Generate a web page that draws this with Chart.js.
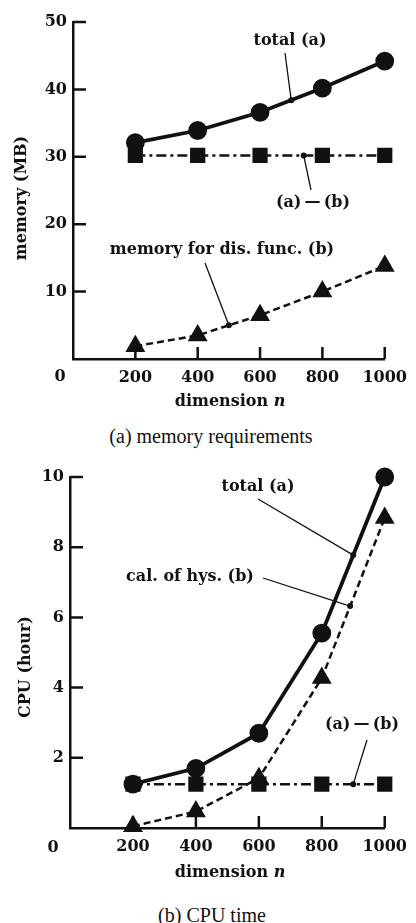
<!DOCTYPE html>
<html>
<head>
<meta charset="utf-8">
<script src="https://cdn.jsdelivr.net/npm/chart.js@4"></script>
<style>
  body { margin: 0; background: #fff; width: 416px; height: 923px; position: relative; overflow: hidden; }
  .box { position: absolute; left: 0; width: 416px; }
  .cap { position: absolute; transform: translate(-50%, -50%); font-family: "Liberation Serif", serif;
         font-size: 20px; color: #111; white-space: nowrap; }
</style>
</head>
<body>
<div class="box" style="top:0;height:420px"><canvas id="mem" width="416" height="420"></canvas></div>
<div class="cap" style="left:211px;top:436px">(a) memory requirements</div>
<div class="box" style="top:440px;height:450px"><canvas id="cpu" width="416" height="450"></canvas></div>
<div class="cap" style="left:212px;top:915px">(b) CPU time</div>
<script>
// values
const dims = [200, 400, 600, 800, 1000];
const dimTicks = [0, 200, 400, 600, 800, 1000];

const memTotal = [32.1, 33.9, 36.6, 40.2, 44.2];
const memDiff = [30.2, 30.2, 30.2, 30.2, 30.2];
const memDisFunc = [1.9, 3.5, 6.5, 10.0, 13.8];
const memTicks = [0, 10, 20, 30, 40, 50];

const cpuTotal = [1.25, 1.7, 2.7, 5.55, 10.0];
const cpuDiff = [1.25, 1.25, 1.25, 1.25, 1.25];
const cpuHys = [0.05, 0.47, 1.42, 4.27, 8.83];
const cpuTicks = [0, 2, 4, 6, 8, 10];

const ink = '#111';
const serif = '"DejaVu Serif", serif';
const tickFont = { family: serif, size: 16, weight: 'bold' };

function pts(ys) {
  return dims.map((x, i) => ({ x: x, y: ys[i] }));
}

// inward tick marks, titles and the little leader-line notes
const decor = {
  id: 'decor',
  beforeDatasetsDraw(chart, args, opts) {
    const ctx = chart.ctx, xs = chart.scales.x, ys = chart.scales.y;
    const { left, bottom } = chart.chartArea;
    ctx.save();
    ctx.strokeStyle = ink;
    ctx.lineWidth = 2.5;
    ctx.beginPath();
    ys.ticks.forEach(t => {
      if (t.value === 0) return;
      const y = ys.getPixelForValue(t.value);
      ctx.moveTo(left, y); ctx.lineTo(left + 13, y);
    });
    xs.ticks.forEach(t => {
      if (t.value === 0) return;
      const x = xs.getPixelForValue(t.value);
      ctx.moveTo(x, bottom); ctx.lineTo(x, bottom - 12);
    });
    ctx.stroke();
    ctx.restore();
  },
  afterDraw(chart, args, opts) {
    const ctx = chart.ctx;
    ctx.save();
    ctx.fillStyle = ink;
    ctx.strokeStyle = ink;
    ctx.textAlign = 'center';
    ctx.textBaseline = 'middle';

    ctx.font = 'bold 16px ' + serif;
    ctx.fillText('0', opts.zero[0], opts.zero[1]);

    // y title
    ctx.font = 'bold 16px ' + serif;
    ctx.save();
    ctx.translate(opts.yTitle[0], opts.yTitle[1]);
    ctx.rotate(-Math.PI / 2);
    ctx.fillText(opts.yText, 0, 0);
    ctx.restore();

    // x title, "n" in italics
    const a = 'dimension ';
    ctx.font = 'bold 16px ' + serif;
    const wa = ctx.measureText(a).width;
    ctx.font = 'italic bold 16px ' + serif;
    const wb = ctx.measureText('n').width;
    const x0 = opts.xTitle[0] - (wa + wb) / 2;
    ctx.textAlign = 'left';
    ctx.font = 'bold 16px ' + serif;
    ctx.fillText(a, x0, opts.xTitle[1]);
    ctx.font = 'italic bold 16px ' + serif;
    ctx.fillText('n', x0 + wa, opts.xTitle[1]);
    ctx.textAlign = 'center';

    // notes
    ctx.font = 'bold 16px ' + serif;
    opts.notes.forEach(n => {
      const meta = chart.getDatasetMeta(n.ds);
      const p0 = meta.data[n.seg], p1 = meta.data[n.seg + 1];
      const ax = p0.x + (p1.x - p0.x) * n.t;
      const ay = p0.y + (p1.y - p0.y) * n.t;
      ctx.lineWidth = 1.3;
      ctx.beginPath();
      ctx.moveTo(n.from[0], n.from[1]);
      ctx.lineTo(ax, ay);
      ctx.stroke();
      ctx.beginPath();
      ctx.arc(ax, ay, 3, 0, Math.PI * 2);
      ctx.fill();
      ctx.fillText(n.text, n.at[0], n.at[1]);
    });
    ctx.restore();
  }
};

function makeChart(id, sets, yTicks, yMax, area, deco) {
  return new Chart(document.getElementById(id), {
    type: 'line',
    data: {
      datasets: [
        { data: pts(sets[0]), borderColor: ink, backgroundColor: ink, borderWidth: 3.8,
          pointStyle: 'circle', pointRadius: 7.5, clip: false },
        { data: pts(sets[1]), borderColor: ink, backgroundColor: ink, borderWidth: 2.5,
          borderDash: [7, 4], pointStyle: 'triangle', pointRadius: 9, clip: false },
        { data: pts(sets[2]), borderColor: ink, backgroundColor: ink, borderWidth: 2.5,
          borderDash: [10, 4, 3, 4], pointStyle: 'rect', pointRadius: 9, clip: false }
      ]
    },
    options: {
      responsive: false,
      animation: false,
      layout: { padding: { left: 0, right: area.right, top: area.top, bottom: 0 } },
      plugins: { legend: { display: false }, tooltip: { enabled: false }, decor: deco },
      scales: {
        x: {
          type: 'linear', min: 0, max: 1000,
          afterBuildTicks: s => { s.ticks = dimTicks.map(v => ({ value: v })); },
          afterFit: s => { s.height = area.xh; },
          grid: { display: false, drawTicks: false },
          border: { display: true, color: ink, width: 2.5 },
          ticks: { color: ink, font: tickFont, padding: 9, maxRotation: 0,
                   callback: v => (v === 0 ? '' : v) }
        },
        y: {
          min: 0, max: yMax,
          afterBuildTicks: s => { s.ticks = yTicks.map(v => ({ value: v })); },
          afterFit: s => { s.width = area.yw; },
          grid: { display: false, drawTicks: false },
          border: { display: true, color: ink, width: 2.5 },
          ticks: { color: ink, font: tickFont, padding: 6,
                   callback: v => (v === 0 ? '' : v) }
        }
      }
    },
    plugins: [decor]
  });
}

makeChart('mem', [memTotal, memDisFunc, memDiff], memTicks, 50,
  { right: 21, top: 22, xh: 61, yw: 73 },
  {
    zero: [60, 377], yTitle: [22, 198], yText: 'memory (MB)', xTitle: [230, 402],
    notes: [
      { text: 'total (a)', at: [290, 41], from: [285, 53], ds: 0, seg: 2, t: 0.5 },
      { text: '(a)\u2009\u2014\u2009(b)', at: [313, 203], from: [311, 190], ds: 2, seg: 2, t: 0.7 },
      { text: 'memory for dis. func. (b)', at: [222, 250], from: [205, 263], ds: 1, seg: 1, t: 0.5 }
    ]
  });

makeChart('cpu', [cpuTotal, cpuHys, cpuDiff], cpuTicks, 10,
  { right: 26, top: 37, xh: 62, yw: 70 },
  {
    zero: [53, 408], yTitle: [26, 227], yText: 'CPU (hour)', xTitle: [230, 433],
    notes: [
      { text: 'total (a)', at: [258, 47], from: [258, 59], ds: 0, seg: 3, t: 0.5 },
      { text: 'cal. of hys. (b)', at: [190, 137], from: [263, 138], ds: 1, seg: 3, t: 0.45 },
      { text: '(a)\u2009\u2014\u2009(b)', at: [362, 285], from: [367, 300], ds: 2, seg: 3, t: 0.5 }
    ]
  });
</script>
</body>
</html>
